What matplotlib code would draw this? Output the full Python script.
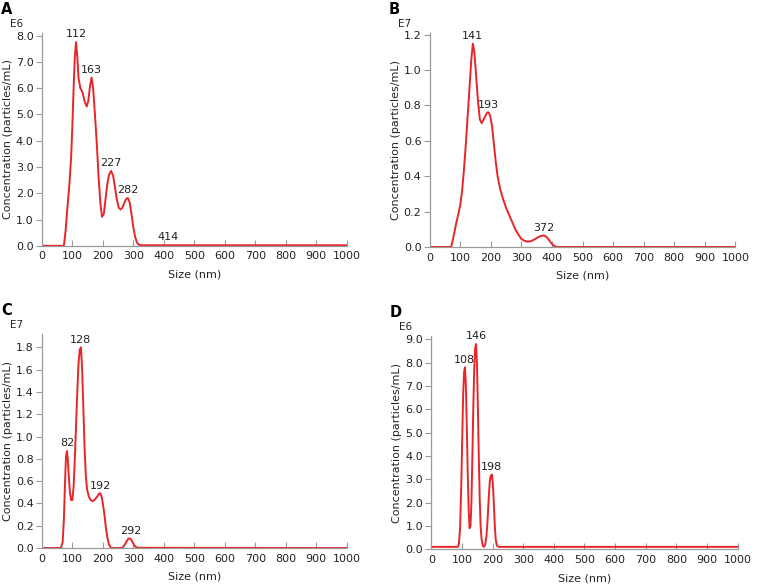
import matplotlib.pyplot as plt

# Panel A (E6)
a_size = [0, 60, 72, 78, 84, 90, 96, 100, 104, 108, 112, 116, 120, 126, 133, 140,
          147, 152, 157, 163, 168, 174, 180, 186, 192, 197, 203, 208, 214, 220,
          227, 234, 240, 246, 252, 258, 264, 270, 276, 282, 288, 294, 300, 306,
          312, 318, 325, 335, 360, 400, 414, 440, 480, 1000]
a_conc = [0, 0, 0, 0.6, 1.5, 2.3, 3.4, 4.6, 6.0, 7.2, 7.75, 7.2, 6.4, 6.0, 5.85, 5.5,
          5.3, 5.5, 6.0, 6.4, 6.0, 5.0, 3.9, 2.6, 1.6, 1.1, 1.2, 1.7, 2.3, 2.7,
          2.85, 2.65, 2.2, 1.75, 1.45, 1.38, 1.45, 1.62, 1.78, 1.82, 1.65, 1.2, 0.7, 0.33,
          0.12, 0.04, 0.02, 0.02, 0.02, 0.02, 0.02, 0.02, 0.02, 0.02]
a_peaks = [112, 163, 227, 282, 414]
a_peak_y = [7.75, 6.4, 2.85, 1.82, 0.02]

# Panel B (E7)
b_size = [0, 60, 70, 78, 86, 94, 100, 106, 112, 118, 124, 130, 136, 141, 146,
          152, 158, 164, 170, 176, 182, 188, 193, 198, 204, 210, 216, 222, 230,
          240, 250, 260, 270, 280, 290, 300, 310, 320, 330, 340, 350, 360, 372,
          380, 388, 396, 404, 412, 420, 1000]
b_conc = [0, 0, 0, 0.06, 0.13, 0.19, 0.24, 0.32, 0.44, 0.58, 0.74, 0.9, 1.06, 1.15, 1.1,
          0.96, 0.82, 0.72, 0.7, 0.72, 0.74, 0.76, 0.76, 0.74, 0.68, 0.58, 0.48, 0.4, 0.33,
          0.27, 0.22, 0.18, 0.14, 0.1, 0.07, 0.045, 0.035, 0.03, 0.032, 0.04, 0.05, 0.06, 0.065,
          0.06, 0.045, 0.025, 0.01, 0.002, 0, 0]
b_peaks = [141, 193, 372]
b_peak_y = [1.15, 0.76, 0.065]

# Panel C (E7)
c_size = [0, 62, 68, 72, 76, 79, 82, 85, 88, 92, 96, 100, 104, 108, 112, 116,
          120, 124, 128, 132, 136, 140, 144, 148, 154, 160, 166, 172, 178, 184,
          188, 192, 196, 200, 205, 210, 215, 220, 226, 232, 260, 266, 272, 278,
          284, 290, 294, 298, 302, 308, 314, 1000]
c_conc = [0, 0, 0.05, 0.25, 0.6, 0.82, 0.87, 0.8, 0.65, 0.5, 0.43, 0.43, 0.55, 0.8, 1.1, 1.4,
          1.65, 1.78, 1.8, 1.6, 1.25, 0.9, 0.65, 0.53, 0.46, 0.43, 0.42, 0.43, 0.45, 0.47,
          0.49, 0.49, 0.46, 0.4, 0.3, 0.18, 0.09, 0.03, 0.005, 0, 0, 0.008, 0.03, 0.06,
          0.085, 0.085, 0.07, 0.05, 0.03, 0.01, 0.002, 0]
c_peaks = [82, 128, 192, 292]
c_peak_y = [0.87, 1.8, 0.49, 0.085]

# Panel D (E6)
d_size = [0, 86, 90, 94, 98, 101, 104, 107, 110, 113, 116, 119, 122, 125, 128,
          131, 134, 137, 140, 143, 146, 149, 152, 155, 158, 161, 164, 168, 172,
          176, 180, 184, 188, 191, 194, 198, 201, 204, 207, 210, 214, 220, 1000]
d_conc = [0.1, 0.1, 0.2, 0.9, 2.8, 4.8, 6.6, 7.6, 7.8, 7.0, 5.2, 3.2, 1.7, 0.9, 1.0,
          2.0, 3.9, 6.0, 7.7, 8.6, 8.8, 8.0, 6.2, 4.0, 2.2, 1.0, 0.45, 0.15, 0.1,
          0.2, 0.55, 1.3, 2.3, 2.9, 3.15, 3.2, 2.8, 2.0, 1.1, 0.45, 0.15, 0.1, 0.1]
d_peaks = [108, 146, 198]
d_peak_y = [7.8, 8.8, 3.2]

x_ticks = list(range(0, 1001, 100))

panels = [
    ("A", "E6", a_size, a_conc, a_peaks, a_peak_y, [0.055, 0.582, 0.400, 0.362], 8.1,
     [0, 1, 2, 3, 4, 5, 6, 7, 8]),
    ("B", "E7", b_size, b_conc, b_peaks, b_peak_y, [0.564, 0.580, 0.401, 0.364], 1.21,
     [0, 0.2, 0.4, 0.6, 0.8, 1.0, 1.2]),
    ("C", "E7", c_size, c_conc, c_peaks, c_peak_y, [0.055, 0.068, 0.400, 0.364], 1.92,
     [0, 0.2, 0.4, 0.6, 0.8, 1.0, 1.2, 1.4, 1.6, 1.8]),
    ("D", "E6", d_size, d_conc, d_peaks, d_peak_y, [0.566, 0.066, 0.402, 0.362], 9.13,
     [0, 1, 2, 3, 4, 5, 6, 7, 8, 9]),
]

fig = plt.figure(figsize=(7.62, 5.88), dpi=100)
spine_col = "#9a9a9a"
txt_col = "#222222"

for letter, exp, xs, ys, px, py, rect, ymax, yt in panels:
    ax = fig.add_axes(rect)
    ax.plot(xs, ys, color="#e8262a", lw=1.4, solid_joinstyle="round")
    ax.set_xlim(0, 1000)
    ax.set_ylim(0, ymax)
    ax.set_xticks(x_ticks)
    ax.set_yticks(yt)
    ax.set_yticklabels(["{:.1f}".format(v) for v in yt])
    for s in ["top", "right"]:
        ax.spines[s].set_visible(False)
    for s in ["left", "bottom"]:
        ax.spines[s].set_color(spine_col)
        ax.spines[s].set_linewidth(0.9)
    ax.tick_params(axis="x", direction="in", length=4, color=spine_col,
                   labelsize=8, pad=4, labelcolor=txt_col)
    ax.tick_params(axis="y", direction="out", length=4, color=spine_col,
                   labelsize=8, pad=2, labelcolor=txt_col)
    ax.set_xlabel("Size (nm)", fontsize=8, color=txt_col, labelpad=6)
    ax.set_ylabel("Concentration (particles/mL)", fontsize=8, color=txt_col, labelpad=2)
    for x, y in zip(px, py):
        ax.annotate(str(x), (x, y), xytext=(0, 2), textcoords="offset points",
                    ha="center", va="bottom", fontsize=8, color=txt_col)
    ax.text(-0.105, 1.02, exp, transform=ax.transAxes, fontsize=7.5,
            color=txt_col, ha="left", va="bottom")
    ax.text(-0.135, 1.075, letter, transform=ax.transAxes, fontsize=10.5,
            fontweight="bold", ha="left", va="bottom")

fig.savefig("out.png", dpi=100)
